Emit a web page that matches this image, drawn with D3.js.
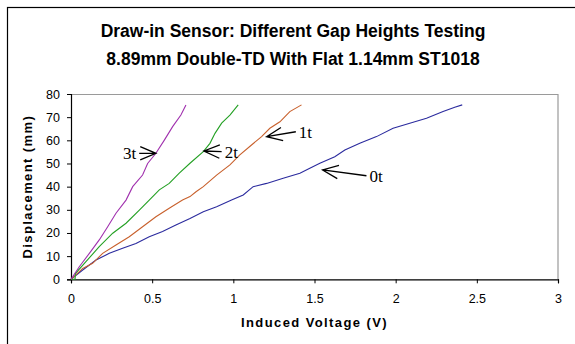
<!DOCTYPE html>
<html>
<head>
<meta charset="utf-8">
<script src="https://cdn.jsdelivr.net/npm/d3@7"></script>
<style>
  body { margin: 0; background: #fff; }
  svg { display: block; }
  .tick text { font-family: "Liberation Sans", Arial, sans-serif; font-size: 12.5px; fill: #000; }
</style>
</head>
<body>
<div id="chart"></div>
<script>
const xTicks = [0, 0.5, 1, 1.5, 2, 2.5, 3];
const yTicks = [0, 10, 20, 30, 40, 50, 60, 70, 80];

// [induced voltage (V), displacement (mm)]
const gap0t = [[0,0],[0.072,4],[0.154,8.3],[0.236,11.2],[0.318,13.4],[0.4,15.5],[0.482,18.4],[0.564,20.6],
  [0.646,23.4],[0.733,26.3],[0.815,29.2],[0.897,31.3],[0.989,34.2],[1.061,36.4],[1.122,40],[1.205,41.4],
  [1.307,43.6],[1.41,45.8],[1.471,47.9],[1.533,50.1],[1.625,52.9],[1.687,55.8],[1.779,58.7],[1.882,61.6],
  [1.984,65.2],[2.087,67.4],[2.19,69.5],[2.292,72.4],[2.364,74.3],[2.41,75.3]];
const gap1t = [[0,0],[0.072,4.7],[0.133,6.9],[0.195,11.2],[0.277,14.8],[0.359,18.4],[0.441,22.7],[0.523,27],
  [0.605,30.7],[0.687,34.2],[0.733,35.7],[0.77,37.8],[0.815,40],[0.897,45],[0.979,49.4],[1.04,53.7],
  [1.112,58],[1.174,61.6],[1.225,65.2],[1.287,68],[1.348,72.4],[1.42,75.3]];
const gap2t = [[0,0],[0.025,0],[0.027,2.5],[0.092,7.6],[0.174,14.1],[0.257,19.9],[0.339,24.2],[0.421,29.9],
  [0.482,34.2],[0.544,38.6],[0.605,41.4],[0.667,45.8],[0.733,50.1],[0.815,55.1],[0.856,58.7],[0.887,63],
  [0.928,67.4],[0.979,70.9],[1.03,75.3]];
const gap3t = [[0,0],[0.051,5.4],[0.113,11.2],[0.174,17],[0.226,22.7],[0.277,28.5],[0.339,34.2],[0.38,40],
  [0.441,45],[0.472,50],[0.523,54.4],[0.575,60.1],[0.626,65.9],[0.677,70.9],[0.708,75.3]];

const seriesNames = ["0t", "1t", "2t", "3t"];
const seriesData = [gap0t, gap1t, gap2t, gap3t];

const annoLabels = ["3t", "2t", "1t", "0t"];
const annoTips = [[0.523, 54.4], [0.819, 55.4], [1.205, 61.6], [1.55, 47.2]];
const annoTails = [[0.42, 54.4], [0.928, 55.1], [1.385, 63.7], [1.82, 44.7]];

const titleLines = ["Draw-in Sensor: Different Gap Heights Testing", "8.89mm Double-TD With Flat 1.14mm ST1018"];

const colors = { "0t": "#2b2b9e", "1t": "#c8602c", "2t": "#23a023", "3t": "#a030ae" };

const W = 575, H = 344;
const margin = { top: 94, right: 575 - 558, bottom: 344 - 279.3, left: 71 };
const width = W - margin.left - margin.right;
const height = H - margin.top - margin.bottom;

const svg = d3.select("#chart").append("svg").attr("width", W).attr("height", H);

// chart area border (only top/left fall inside the picture)
svg.append("rect").attr("x", 7.5).attr("y", 7.5).attr("width", 700).attr("height", 500)
  .attr("fill", "none").attr("stroke", "#000").attr("stroke-width", 1.2);

titleLines.forEach((t, i) => {
  svg.append("text").attr("x", 293).attr("y", 37 + i * 28).attr("text-anchor", "middle")
    .style("font-family", "'Liberation Sans', Arial, sans-serif").style("font-weight", "bold").style("font-size", "17.5px")
    .text(t);
});

const g = svg.append("g").attr("transform", `translate(${margin.left},${margin.top})`);

const x = d3.scaleLinear().domain([0, 3]).range([0, width]);
const y = d3.scaleLinear().domain([0, 80]).range([height, 0]);

// plot area border top/right
g.append("path").attr("d", `M0,0.5H${width}V${height}`).attr("fill", "none").attr("stroke", "#9a9a9a").attr("stroke-width", 1.2);

const xAxis = g.append("g").attr("transform", `translate(0,${height})`)
  .call(d3.axisBottom(x).tickValues(xTicks).tickSize(4).tickPadding(11).tickFormat(d3.format("")));
const yAxis = g.append("g")
  .call(d3.axisLeft(y).tickValues(yTicks).tickSize(4).tickPadding(7));
[xAxis, yAxis].forEach(a => {
  a.select(".domain").attr("stroke", "#000").attr("stroke-width", 1.2);
  a.selectAll(".tick line").attr("stroke", "#000");
});

const line = d3.line().x(d => x(d[0])).y(d => y(d[1]));
seriesData.forEach((s, i) => {
  g.append("path").datum(s).attr("fill", "none")
    .attr("stroke", colors[seriesNames[i]]).attr("stroke-width", 1.1)
    .attr("d", line);
});

// annotation arrows
const headLen = 17, headAng = 23 * Math.PI / 180;
annoLabels.forEach((lab, i) => {
  const tx = x(annoTips[i][0]), ty = y(annoTips[i][1]);
  const sx = x(annoTails[i][0]), sy = y(annoTails[i][1]);
  const ang = Math.atan2(sy - ty, sx - tx);
  const p1 = [tx + headLen * Math.cos(ang + headAng), ty + headLen * Math.sin(ang + headAng)];
  const p2 = [tx + headLen * Math.cos(ang - headAng), ty + headLen * Math.sin(ang - headAng)];
  g.append("path")
    .attr("d", `M${sx},${sy}L${tx},${ty}M${p1[0]},${p1[1]}L${tx},${ty}L${p2[0]},${p2[1]}`)
    .attr("fill", "none").attr("stroke", "#000").attr("stroke-width", 1.3);
  const left = sx < tx;
  g.append("text")
    .attr("x", left ? sx - 3 : sx + 3).attr("y", sy + 6)
    .attr("text-anchor", left ? "end" : "start")
    .style("font-family", "'Liberation Serif', 'Times New Roman', serif").style("font-size", "17px")
    .text(lab);
});

svg.append("text").attr("x", margin.left + width / 2).attr("y", 327).attr("text-anchor", "middle")
  .style("font-family", "'Liberation Sans', Arial, sans-serif").style("font-weight", "bold")
  .style("font-size", "13px").style("letter-spacing", "1.4px")
  .text("Induced Voltage (V)");
svg.append("text").attr("transform", `translate(32,${margin.top + height / 2}) rotate(-90)`)
  .attr("text-anchor", "middle")
  .style("font-family", "'Liberation Sans', Arial, sans-serif").style("font-weight", "bold")
  .style("font-size", "13px").style("letter-spacing", "1.4px")
  .text("Displacement (mm)");
</script>
</body>
</html>
